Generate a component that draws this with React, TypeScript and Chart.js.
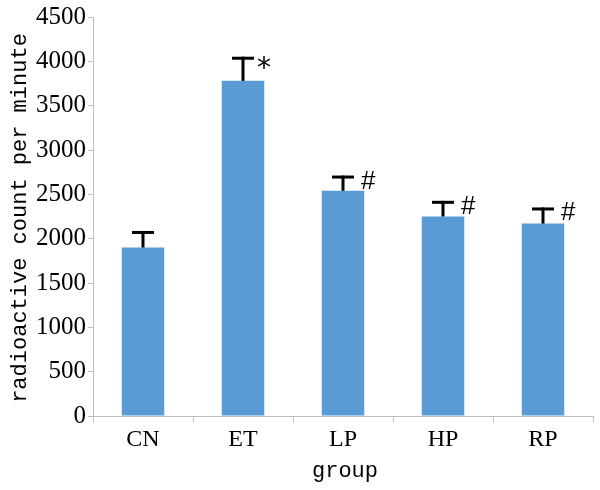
import React, { useEffect, useRef } from 'react';
import { Chart, registerables } from 'chart.js';

Chart.register(...registerables);

const categories = ['CN', 'ET', 'LP', 'HP', 'RP'];
const means = [1900, 3780, 2540, 2250, 2170];
const errors = [170, 255, 155, 160, 165];
const marks = ['', '*', '#', '#', '#'];
const yMin = 0;
const yMax = 4500;
const yStep = 500;
const yTitle = 'radioactive count per minute';
const xTitle = 'group';

const BAR_COLOR = '#5B9BD5';
const AXIS_COLOR = '#BFBFBF';

const errorBarPlugin = {
  id: 'errorBars',
  afterDatasetsDraw(chart: any) {
    const ctx = chart.ctx;
    const meta = chart.getDatasetMeta(0);
    const yScale = chart.scales.y;
    ctx.save();
    ctx.strokeStyle = '#000';
    ctx.fillStyle = '#000';
    ctx.lineWidth = 3;
    ctx.lineCap = 'butt';
    meta.data.forEach((bar: any, i: number) => {
      const x = bar.x;
      const yBase = yScale.getPixelForValue(means[i]);
      const yTop = yScale.getPixelForValue(means[i] + errors[i]);
      const half = 11;
      ctx.beginPath();
      ctx.moveTo(x, yBase);
      ctx.lineTo(x, yTop - 1.5);
      ctx.stroke();
      ctx.beginPath();
      ctx.moveTo(x - half, yTop);
      ctx.lineTo(x + half, yTop);
      ctx.stroke();
      const m = marks[i];
      if (m) {
        const isStar = m === '*';
        ctx.font = isStar ? '28px "DejaVu Sans"' : '26px "Liberation Sans"';
        ctx.textAlign = 'left';
        ctx.textBaseline = 'alphabetic';
        const mt = ctx.measureText(m);
        const gap = isStar ? 3 : 7;
        const dy = isStar ? 5 : 2.5;
        const left = x + half + gap;
        const h = mt.actualBoundingBoxAscent + mt.actualBoundingBoxDescent;
        const centerY = yTop + dy;
        const baseline = centerY - h / 2 + mt.actualBoundingBoxAscent;
        ctx.fillText(m, left + mt.actualBoundingBoxLeft, baseline);
      }
    });
    ctx.restore();
  },
};

const titlePlugin = {
  id: 'axisTitles',
  afterDraw(chart: any) {
    const ctx = chart.ctx;
    const area = chart.chartArea;
    ctx.save();
    ctx.fillStyle = '#000';
    ctx.font = '22px "Liberation Mono"';
    ctx.textAlign = 'center';
    ctx.textBaseline = 'alphabetic';
    ctx.save();
    ctx.translate(area.left - 67, (area.top + area.bottom) / 2 + 1.5);
    ctx.rotate(-Math.PI / 2);
    ctx.fillText(yTitle, 0, 0);
    ctx.restore();
    ctx.fillText(xTitle, (area.left + area.right) / 2 + 2, area.bottom + 61);
    ctx.restore();
  },
};

export default function App() {
  const canvasRef = useRef<HTMLCanvasElement | null>(null);

  useEffect(() => {
    const canvas = canvasRef.current;
    if (!canvas) return;
    const chart = new Chart(canvas, {
      type: 'bar',
      data: {
        labels: categories,
        datasets: [
          {
            data: means,
            backgroundColor: BAR_COLOR,
            borderWidth: 0,
            barPercentage: 0.425,
            categoryPercentage: 1,
          },
        ],
      },
      options: {
        responsive: false,
        animation: false,
        devicePixelRatio: 1,
        layout: { padding: { left: 0, right: 7, top: 16, bottom: 0 } },
        plugins: {
          legend: { display: false },
          tooltip: { enabled: false },
          title: { display: false },
        },
        scales: {
          x: {
            grid: {
              display: true,
              drawOnChartArea: false,
              drawTicks: true,
              tickLength: 6,
              color: AXIS_COLOR,
              offset: true,
            },
            border: { display: true, color: AXIS_COLOR, width: 1 },
            ticks: {
              color: '#000',
              font: { family: '"Liberation Serif"', size: 24 },
              padding: 3,
              maxRotation: 0,
            },
            afterFit(scale: any) {
              scale.height = 74;
            },
          },
          y: {
            min: yMin,
            max: yMax,
            grid: {
              display: true,
              drawOnChartArea: false,
              drawTicks: true,
              tickLength: 5,
              color: AXIS_COLOR,
            },
            border: { display: true, color: AXIS_COLOR, width: 1 },
            ticks: {
              stepSize: yStep,
              color: '#000',
              font: { family: '"Liberation Serif"', size: 25 },
              padding: 2,
              callback: (v: any) => String(v),
            },
            afterFit(scale: any) {
              scale.width = 93;
            },
          },
        },
      },
      plugins: [errorBarPlugin, titlePlugin],
    });
    return () => {
      chart.destroy();
    };
  }, []);

  return (
    <div style={{ position: 'absolute', left: 0, top: 0, width: 600, height: 490, background: '#fff' }}>
      <canvas ref={canvasRef} width={600} height={490} style={{ display: 'block' }} />
    </div>
  );
}
